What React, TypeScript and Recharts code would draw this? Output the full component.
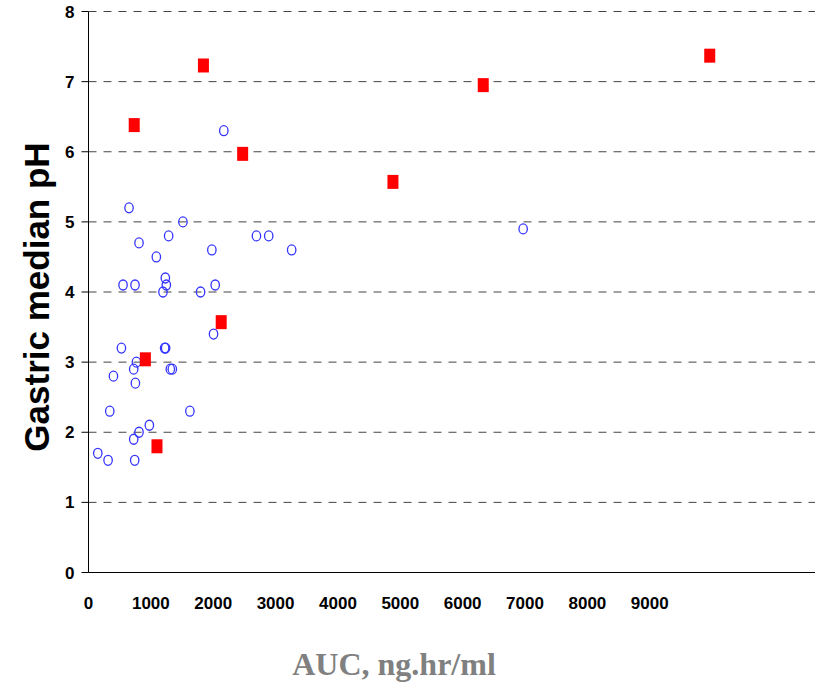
import { CartesianGrid, Label, Scatter, ScatterChart, XAxis, YAxis } from "recharts";

// Open blue circles
const circleAuc = [
  650, 810, 1514, 1285, 1088, 1978, 2693, 2890, 3258, 2170, 1232, 554, 746, 1248, 2032, 1194, 1797, 2005,
  528, 1221, 1237, 768, 725, 1312, 1344, 400, 752, 341, 1626, 976, 810, 725, 149, 314, 741, 6970,
];
const circlePh = [
  5.2, 4.7, 5.0, 4.8, 4.5, 4.6, 4.8, 4.8, 4.6, 6.3, 4.2, 4.1, 4.1, 4.1, 4.1, 4.0, 4.0, 3.4,
  3.2, 3.2, 3.2, 3.0, 2.9, 2.9, 2.9, 2.8, 2.7, 2.3, 2.3, 2.1, 2.0, 1.9, 1.7, 1.6, 1.6, 4.9,
];

// Filled red squares
const squareAuc = [733, 2472, 1843, 6330, 9962, 4882, 2128, 912, 1098];
const squarePh = [6.38, 5.97, 7.23, 6.95, 7.37, 5.57, 3.57, 3.04, 1.8];

const aucTicks = [0, 1000, 2000, 3000, 4000, 5000, 6000, 7000, 8000, 9000];
const phTicks = [0, 1, 2, 3, 4, 5, 6, 7, 8];

const circles = circleAuc.map((auc, i) => ({ auc, ph: circlePh[i] }));
const squares = squareAuc.map((auc, i) => ({ auc, ph: squarePh[i] }));

const tickFont = { fill: "#000", fontSize: 17, fontWeight: 700, fontFamily: "Liberation Sans, Arial, sans-serif" };

function OpenCircle(props: any) {
  const { cx, cy } = props;
  return <ellipse cx={cx} cy={cy} rx={4.2} ry={5} fill="none" stroke="#3333ff" strokeWidth={1.3} />;
}

function RedSquare(props: any) {
  const { cx, cy } = props;
  return <rect x={cx - 5.5} y={cy - 7} width={11} height={14} fill="#ff0000" />;
}

export default function App() {
  return (
    <div style={{ position: "absolute", left: 0, top: 0 }}>
      <ScatterChart width={824} height={687} margin={{ top: 11.5, right: 9, bottom: 72.5, left: 0.5 }}>
        <CartesianGrid xAxisId="val" vertical={false} stroke="#444" strokeDasharray="8 7" />
        <XAxis
          xAxisId="marks"
          type="number"
          dataKey="auc"
          domain={[0, 9000]}
          ticks={aucTicks}
          tick={false}
          tickSize={6}
          height={1}
          axisLine={{ stroke: "#000" }}
          tickLine={{ stroke: "#000" }}
        />
        <XAxis
          xAxisId="val"
          type="number"
          dataKey="auc"
          domain={[0, 11650]}
          ticks={aucTicks}
          interval={0}
          height={41}
          axisLine={false}
          tickLine={false}
          tickSize={0}
          tickMargin={23}
          tick={tickFont}
        >
          <Label
            content={() => (
              <text
                x={394}
                y={675}
                textAnchor="middle"
                fill="#808080"
                fontSize={32}
                fontWeight={700}
                fontFamily="Liberation Serif, Times New Roman, serif"
              >
                AUC, ng.hr/ml
              </text>
            )}
          />
        </XAxis>
        <YAxis
          type="number"
          dataKey="ph"
          domain={[0, 8]}
          ticks={phTicks}
          interval={0}
          width={88}
          tickSize={7}
          tickMargin={7}
          axisLine={{ stroke: "#000" }}
          tickLine={{ stroke: "#000" }}
          tick={tickFont}
        >
          <Label
            content={() => (
              <text
                x={36}
                y={297}
                transform="rotate(-90 36 297)"
                textAnchor="middle"
                dominantBaseline="central"
                fill="#000"
                fontSize={35}
                fontWeight={700}
                fontFamily="Liberation Sans, Arial, sans-serif"
              >
                Gastric median pH
              </text>
            )}
          />
        </YAxis>
        <Scatter xAxisId="val" data={circles} shape={OpenCircle} isAnimationActive={false} />
        <Scatter xAxisId="val" data={squares} shape={RedSquare} isAnimationActive={false} />
      </ScatterChart>
    </div>
  );
}
